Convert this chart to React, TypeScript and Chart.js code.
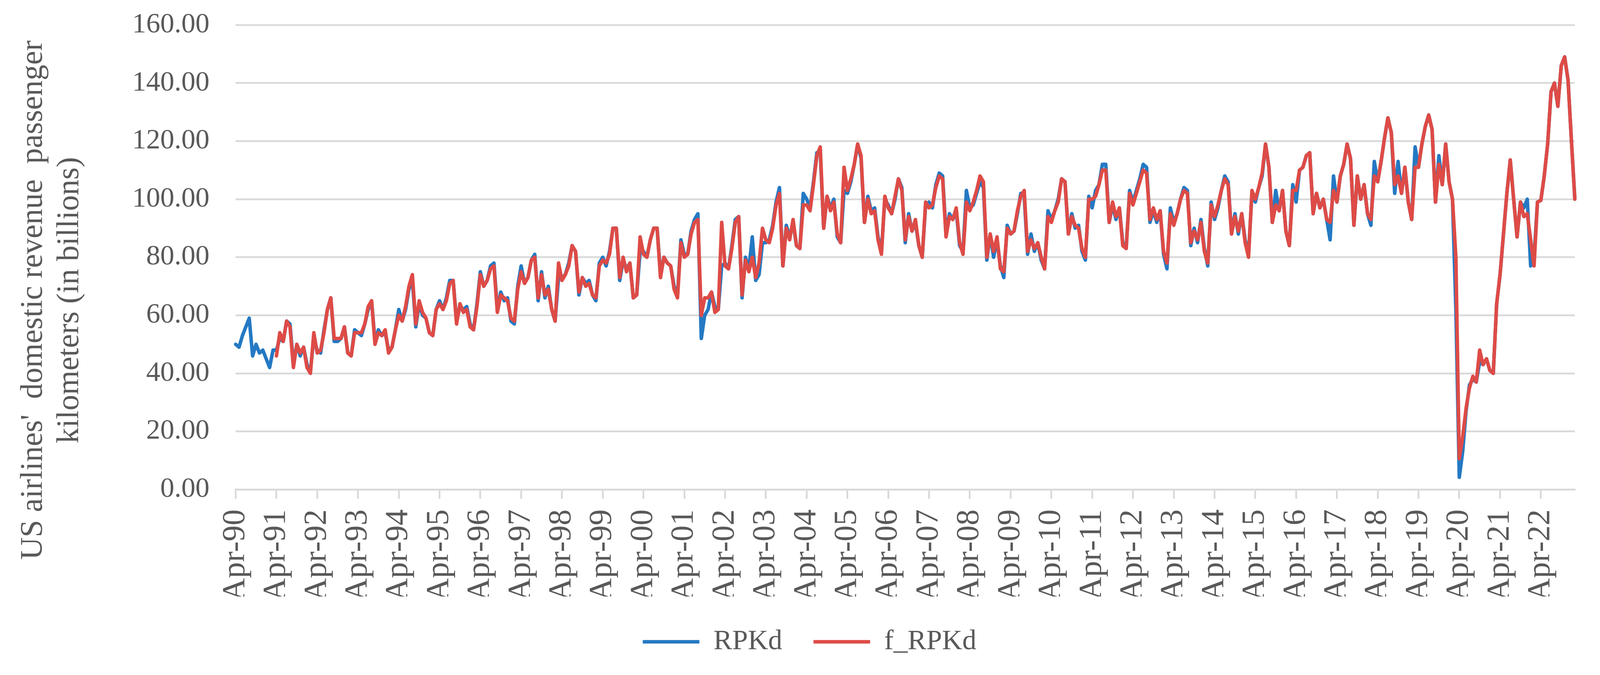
import React, { useEffect, useRef } from 'react';
import { Chart, registerables } from 'chart.js';

Chart.register(...registerables);

// ---- data ----
const MONTHS = ['Jan', 'Feb', 'Mar', 'Apr', 'May', 'Jun', 'Jul', 'Aug', 'Sep', 'Oct', 'Nov', 'Dec'];
const START_YEAR = 1990;
const START_MONTH = 3; // April

const X_TICK_LABELS = [
  'Apr-90', 'Apr-91', 'Apr-92', 'Apr-93', 'Apr-94', 'Apr-95', 'Apr-96', 'Apr-97', 'Apr-98', 'Apr-99',
  'Apr-00', 'Apr-01', 'Apr-02', 'Apr-03', 'Apr-04', 'Apr-05', 'Apr-06', 'Apr-07', 'Apr-08', 'Apr-09',
  'Apr-10', 'Apr-11', 'Apr-12', 'Apr-13', 'Apr-14', 'Apr-15', 'Apr-16', 'Apr-17', 'Apr-18', 'Apr-19',
  'Apr-20', 'Apr-21', 'Apr-22',
];

const Y_MIN = 0;
const Y_MAX = 160;
const Y_STEP = 20;

const SERIES_NAMES = ['RPKd', 'f_RPKd'];
const Y_TITLE = ["US airlines'  domestic revenue  passenger", 'kilometers (in billions)'];

// monthly values, Apr-1990 .. Feb-2023 (one row per Apr..Mar year)
const RPKD = [
  50, 49, 53, 56, 59, 46, 50, 47, 48, 45, 42, 48,
  48, 52, 51, 58, 57, 43, 50, 46, 49, 43, 41, 52,
  48, 47, 55, 62, 66, 51, 51, 52, 56, 47, 46, 55,
  54, 53, 57, 62, 65, 51, 55, 53, 54, 48, 49, 55,
  62, 58, 62, 69, 72, 56, 64, 60, 59, 54, 53, 62,
  65, 62, 66, 72, 72, 58, 63, 62, 63, 57, 55, 64,
  75, 70, 72, 77, 78, 62, 68, 65, 66, 58, 57, 70,
  77, 71, 73, 79, 81, 65, 75, 66, 70, 62, 58, 73,
  73, 74, 78, 84, 82, 67, 73, 71, 72, 67, 65, 78,
  80, 77, 82, 90, 90, 72, 79, 76, 78, 66, 67, 82,
  82, 80, 86, 90, 90, 74, 80, 78, 77, 70, 67, 86,
  81, 81, 89, 93, 95, 52, 60, 62, 68, 63, 62, 77,
  78, 76, 84, 93, 94, 66, 80, 76, 87, 72, 74, 85,
  85, 86, 91, 99, 104, 77, 91, 87, 92, 84, 83, 102,
  100, 97, 106, 116, 116, 90, 101, 97, 100, 87, 85, 103,
  102, 106, 112, 119, 114, 92, 101, 96, 97, 87, 82, 100,
  98, 95, 100, 107, 104, 85, 95, 89, 92, 84, 80, 98,
  99, 97, 105, 109, 108, 88, 95, 93, 96, 84, 82, 103,
  97, 98, 102, 106, 104, 79, 88, 80, 86, 77, 73, 91,
  88, 89, 95, 102, 101, 81, 88, 82, 85, 79, 76, 96,
  93, 96, 100, 107, 106, 88, 95, 90, 91, 82, 79, 101,
  97, 103, 105, 112, 112, 92, 98, 93, 97, 85, 83, 103,
  99, 103, 107, 112, 111, 92, 96, 92, 96, 81, 76, 97,
  92, 95, 100, 104, 103, 84, 90, 85, 93, 83, 77, 99,
  93, 97, 103, 108, 106, 88, 95, 88, 95, 86, 81, 102,
  99, 104, 108, 119, 111, 92, 103, 96, 103, 89, 84, 105,
  99, 110, 111, 115, 116, 95, 102, 97, 100, 93, 86, 108,
  99, 108, 112, 119, 114, 91, 108, 100, 105, 95, 91, 113,
  106, 113, 121, 128, 123, 102, 113, 102, 111, 99, 93, 118,
  111, 119, 125, 129, 124, 99, 115, 105, 119, 106, 100, 62,
  4.2, 13, 27, 36, 38, 37, 44, 43, 45, 41, 40, 64,
  74, 88, 102, 113.5, 100, 87, 99, 97, 100, 77, 80, 99,
  99.6, 108, 119, 137, 140, 132, 146, 149, 141, 120, 100,
];

const F_RPKD = [
  null, null, null, null, null, null, null, null, null, null, null, null,
  46, 54, 51, 58, 56, 42, 50, 47, 49, 42, 40, 54,
  47, 48, 54, 62, 66, 52, 52, 52, 56, 47, 46, 54,
  54, 54, 57, 63, 65, 50, 54, 53, 55, 47, 49, 55,
  60, 58, 63, 70, 74, 57, 65, 61, 59, 54, 53, 62,
  64, 62, 65, 71, 72, 57, 64, 61, 62, 56, 55, 63,
  74, 70, 72, 76, 77, 61, 67, 66, 65, 59, 58, 69,
  75, 71, 73, 79, 80, 66, 74, 67, 69, 62, 58, 78,
  72, 74, 77, 84, 82, 68, 73, 70, 71, 67, 66, 77,
  79, 78, 81, 90, 90, 73, 80, 75, 78, 66, 67, 87,
  81, 80, 86, 90, 90, 73, 80, 78, 77, 69, 66, 85,
  80, 81, 88, 92, 93, 60, 66, 66, 68, 61, 62, 92,
  77, 76, 83, 92, 94, 67, 79, 75, 80, 73, 78, 90,
  86, 85, 90, 98, 102, 77, 90, 86, 93, 84, 83, 98,
  98, 96, 105, 115, 118, 90, 101, 96, 99, 88, 85, 111,
  103, 107, 112, 119, 115, 92, 100, 95, 96, 86, 81, 101,
  97, 95, 101, 107, 103, 86, 94, 89, 93, 84, 80, 99,
  97, 98, 104, 108, 107, 87, 94, 93, 97, 85, 81, 99,
  96, 99, 103, 108, 106, 80, 88, 82, 87, 76, 75, 90,
  88, 89, 96, 101, 103, 82, 86, 83, 85, 80, 76, 94,
  92, 96, 99, 107, 106, 88, 94, 91, 90, 83, 80, 100,
  100, 101, 105, 110, 110, 92, 99, 94, 97, 84, 83, 102,
  98, 102, 106, 110, 109, 93, 97, 93, 96, 82, 78, 95,
  91, 95, 100, 103, 102, 85, 89, 86, 92, 82, 78, 98,
  94, 98, 103, 107, 105, 88, 94, 89, 95, 85, 80, 103,
  100, 104, 109, 119, 111, 92, 98, 96, 103, 89, 84, 103,
  103, 110, 111, 115, 116, 95, 102, 97, 100, 93, 92, 103,
  99, 108, 112, 119, 114, 91, 108, 100, 105, 95, 93, 108,
  106, 113, 121, 128, 123, 105, 108, 102, 111, 99, 93, 111,
  111, 119, 125, 129, 124, 99, 112, 105, 119, 106, 100, 80,
  10.6, 18, 28, 35, 39, 37, 48, 43, 45, 41, 40, 64,
  74, 88, 102, 113.5, 100, 87, 99, 94, 95, 86, 77, 99,
  99.6, 108, 119, 137, 140, 132, 146, 149, 141, 120, 100,
];

const CATEGORIES = RPKD.map((_, i) => {
  const m = START_MONTH + i;
  const y = START_YEAR + Math.floor(m / 12);
  return MONTHS[m % 12] + '-' + String(y % 100).padStart(2, '0');
});

// ---- styles ----
const BLUE = '#2479C3';
const RED = '#DE4B46';
const GRID = '#D9D9D9';
const TEXT = '#595959';
const FONT = 'Liberation Serif';
const TITLE_SHIFT = [11, 11]; // trailing spaces used to centre the rotated title lines like the reference

export default function App() {
  const canvasRef = useRef<HTMLCanvasElement | null>(null);

  useEffect(() => {
    if (!canvasRef.current) return;
    const isTick = (i: number) => X_TICK_LABELS.includes(CATEGORIES[i]);
    const chart = new Chart(canvasRef.current, {
      type: 'line',
      data: {
        labels: CATEGORIES,
        datasets: [
          {
            label: SERIES_NAMES[0],
            data: RPKD,
            borderColor: BLUE,
            backgroundColor: BLUE,
            borderWidth: 9,
            pointRadius: 0,
            tension: 0,
            borderJoinStyle: 'round',
            borderCapStyle: 'round',
            order: 1,
          },
          {
            label: SERIES_NAMES[1],
            data: F_RPKD,
            borderColor: RED,
            backgroundColor: RED,
            borderWidth: 9,
            pointRadius: 0,
            tension: 0,
            borderJoinStyle: 'round',
            borderCapStyle: 'round',
            order: 0,
          },
        ],
      },
      options: {
        animation: false,
        responsive: true,
        maintainAspectRatio: false,
        devicePixelRatio: 1,
        layout: { padding: { top: 64, left: 39, right: 51, bottom: 39 } },
        plugins: {
          tooltip: { enabled: false },
          legend: {
            position: 'bottom',
            labels: {
              font: { family: FONT, size: 72 },
              color: TEXT,
              boxWidth: 145,
              boxHeight: 9,
              padding: 80,
              sort: (a: any, b: any) => a.datasetIndex - b.datasetIndex,
              generateLabels: (ch: any) =>
                ch.data.datasets.map((ds: any, i: number) => ({
                  text: ds.label,
                  fillStyle: ds.borderColor,
                  strokeStyle: ds.borderColor,
                  lineWidth: 0,
                  fontColor: TEXT,
                  hidden: false,
                  datasetIndex: i,
                })),
            },
          },
        },
        scales: {
          x: {
            type: 'category',
            offset: false,
            afterFit: (scale: any) => {
              scale.height = 274;
            },
            grid: {
              display: true,
              drawOnChartArea: false,
              drawTicks: true,
              tickLength: 24,
              lineWidth: 4.5,
              color: (ctx: any) => (isTick(ctx.index) ? GRID : 'rgba(0,0,0,0)'),
            },
            border: { display: true, color: GRID, width: 4.5 },
            ticks: {
              autoSkip: false,
              minRotation: 90,
              maxRotation: 90,
              padding: 27,
              color: TEXT,
              font: { family: FONT, size: 82 },
              callback: (_v: any, i: number) => (isTick(i) ? CATEGORIES[i] : ''),
            },
          },
          y: {
            min: Y_MIN,
            max: Y_MAX,
            grid: {
              color: GRID,
              lineWidth: 4.5,
              drawTicks: true,
              tickLength: 57,
              tickColor: 'rgba(0,0,0,0)',
            },
            border: { display: false },
            ticks: {
              stepSize: Y_STEP,
              padding: 10,
              color: TEXT,
              font: { family: FONT, size: 72 },
              callback: (v: any) => Number(v).toFixed(2),
            },
            title: {
              display: true,
              text: Y_TITLE.map((s, i) => s + ' '.repeat(TITLE_SHIFT[i])),
              color: TEXT,
              font: { family: FONT, size: 80, lineHeight: 1.17 },
              padding: { top: 0, bottom: 102 },
            },
          },
        },
      },
    });
    return () => chart.destroy();
  }, []);

  return (
    <div style={{ position: 'absolute', left: 0, top: 0, width: '4157px', height: '1728px', background: '#fff' }}>
      <canvas ref={canvasRef} />
    </div>
  );
}
